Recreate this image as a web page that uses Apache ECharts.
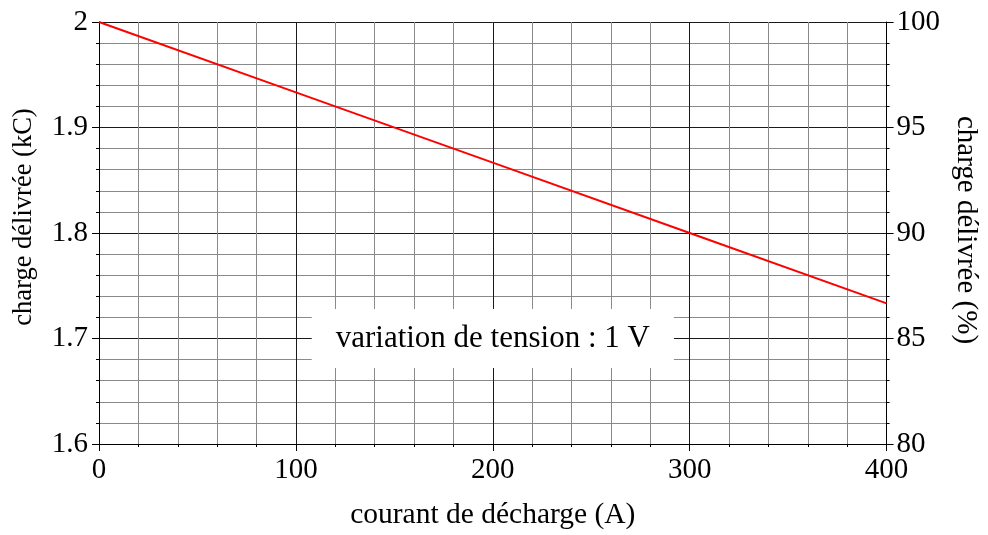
<!DOCTYPE html>
<html>
<head>
<meta charset="utf-8">
<script src="https://cdn.jsdelivr.net/npm/echarts@6/dist/echarts.min.js"></script>
<style>
html,body{margin:0;padding:0;background:#fff;}
#chart{width:988px;height:535px;}
</style>
</head>
<body>
<div id="chart"></div>
<script>
// Data
const currentA = [0, 100, 200, 300, 400];
const chargeKC = [2.0, 1.9333, 1.8667, 1.8, 1.7333];
const annotationText = 'variation de tension : 1 V';
const annotationAt = [200, 1.7];
const xName = 'courant de décharge (A)';
const yLeftName = 'charge délivrée (kC)';
const yRightName = 'charge délivrée (%)';

const FONT = "'Liberation Serif', 'Times New Roman', serif";

const chart = echarts.init(document.getElementById('chart'));
const axisLbl = { color: '#000', fontFamily: FONT, fontSize: 29 };
const major = { color: '#1a1a1a', width: 1 };
const minor = { color: '#8a8a8a', width: 1 };

chart.setOption({
  animation: false,
  backgroundColor: '#fff',
  grid: { left: 99, right: 88, top: 22, bottom: 86, containLabel: false },
  xAxis: {
    type: 'value', min: 0, max: 400, interval: 100,
    name: xName, nameLocation: 'middle', nameGap: 56,
    nameTextStyle: { color: '#000', fontFamily: FONT, fontSize: 29.5 },
    axisLine: { show: true, lineStyle: { color: '#000', width: 1 } },
    axisTick: { show: true, length: 7, lineStyle: { color: '#000' } },
    minorTick: { show: true, splitNumber: 5, length: 3, lineStyle: { color: '#000' } },
    splitLine: { show: true, lineStyle: major },
    minorSplitLine: { show: true, lineStyle: minor },
    axisLabel: Object.assign({ margin: 12 }, axisLbl)
  },
  yAxis: [
    {
      type: 'value', min: 1.6, max: 2.0, interval: 0.1, position: 'left',
      name: yLeftName, nameLocation: 'middle', nameGap: 61, nameRotate: 90,
      nameTextStyle: { color: '#000', fontFamily: FONT, fontSize: 26.5, padding: [0, 0, 0, 32] },
      axisLine: { show: true, lineStyle: { color: '#000', width: 1 } },
      axisTick: { show: true, length: 7, lineStyle: { color: '#000' } },
      minorTick: { show: true, splitNumber: 5, length: 3, lineStyle: { color: '#000' } },
      splitLine: { show: true, lineStyle: major },
      minorSplitLine: { show: true, lineStyle: minor },
      axisLabel: Object.assign({ margin: 11, formatter: v => String(parseFloat(v.toFixed(2))) }, axisLbl)
    },
    {
      type: 'value', min: 80, max: 100, interval: 5, position: 'right',
      name: yRightName, nameLocation: 'middle', nameGap: 48, nameRotate: -90,
      nameTextStyle: { color: '#000', fontFamily: FONT, fontSize: 29, padding: [0, 6, 0, 0] },
      axisLine: { show: true, lineStyle: { color: '#000', width: 1 } },
      axisTick: { show: true, length: 7, lineStyle: { color: '#000' } },
      minorTick: { show: true, splitNumber: 5, length: 3, lineStyle: { color: '#000' } },
      splitLine: { show: false },
      minorSplitLine: { show: false },
      axisLabel: Object.assign({ margin: 10 }, axisLbl)
    }
  ],
  series: [{
    type: 'line',
    data: currentA.map((x, i) => [x, chargeKC[i]]),
    showSymbol: false,
    symbol: 'none',
    lineStyle: { color: '#ff0000', width: 2 },
    z: 5,
    markPoint: {
      symbol: 'rect', symbolSize: 0, silent: true,
      label: {
        show: true, position: 'inside', formatter: annotationText,
        color: '#000', fontFamily: FONT, fontSize: 31,
        backgroundColor: '#fff', padding: [14, 24]
      },
      data: [{ coord: annotationAt }]
    }
  }]
});
</script>
</body>
</html>
